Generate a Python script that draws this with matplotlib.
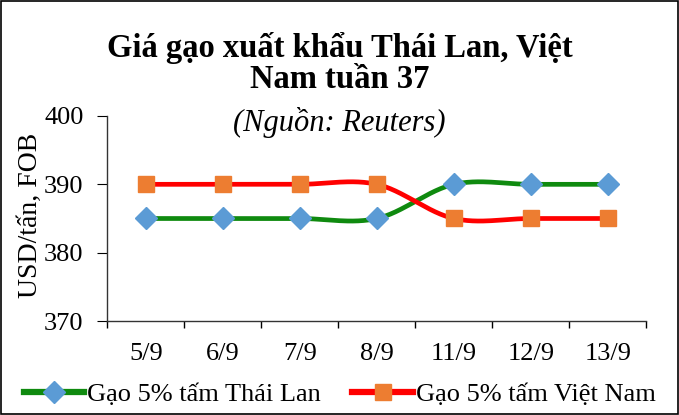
import matplotlib
import numpy as np

matplotlib.use("Agg")
import matplotlib.pyplot as plt
from matplotlib.lines import Line2D
from matplotlib.patches import Rectangle

dates = ["5/9", "6/9", "7/9", "8/9", "11/9", "12/9", "13/9"]
thai = [385, 385, 385, 385, 390, 390, 390]
vietnam = [390, 390, 390, 390, 385, 385, 385]
yticks = [370, 380, 390, 400]

plt.rcParams["font.family"] = ["Liberation Serif", "DejaVu Serif"]


def smooth(x, y, n=30):
    # Catmull-Rom curve through the points, like Excel's smoothed line
    x = np.asarray(x, float)
    y = np.asarray(y, float)
    px = np.concatenate([[2 * x[0] - x[1]], x, [2 * x[-1] - x[-2]]])
    py = np.concatenate([[y[0]], y, [y[-1]]])
    xs, ys = [], []
    t = np.linspace(0, 1, n)
    for i in range(1, len(px) - 2):
        for p, out in ((px, xs), (py, ys)):
            p0, p1, p2, p3 = p[i - 1], p[i], p[i + 1], p[i + 2]
            out.append(
                0.5
                * (
                    2 * p1
                    + (-p0 + p2) * t
                    + (2 * p0 - 5 * p1 + 4 * p2 - p3) * t**2
                    + (-p0 + 3 * p1 - 3 * p2 + p3) * t**3
                )
            )
    return np.concatenate(xs), np.concatenate(ys)


fig = plt.figure(figsize=(6.79, 4.15), dpi=100)
fig.patches.append(
    Rectangle((0.002, 0.003), 0.996, 0.994, transform=fig.transFigure,
              fill=False, edgecolor="black", linewidth=1.2)
)
ax = fig.add_axes([0.158, 0.2265, 0.794, 0.494])

xpos = np.arange(len(dates))
green = "#0f8a0f"
red = "#ff0000"

sx, sy = smooth(xpos, thai)
ax.plot(sx, sy, color=green, linewidth=3.4, solid_capstyle="round", zorder=2)
sx, sy = smooth(xpos, vietnam)
ax.plot(sx, sy, color=red, linewidth=3.4, solid_capstyle="round", zorder=2)
ax.plot(xpos, thai, linestyle="none", marker="D", markersize=11,
        color="#5b9bd5", zorder=3)
ax.plot(xpos, vietnam, linestyle="none", marker="s", markersize=11,
        color="#ed7d31", zorder=3)

ax.set_xlim(-0.5, len(dates) - 0.5)
ax.set_ylim(370, 400)
ax.set_yticks(yticks)
ax.set_xticks(xpos)
ax.set_xticklabels(dates)
ax.set_xticks(np.arange(len(dates) + 1) - 0.5, minor=True)
ax.tick_params(axis="x", which="major", length=0, pad=16, labelsize=19)
ax.tick_params(axis="x", which="minor", length=5, direction="out", width=1)
ax.tick_params(axis="y", length=7, direction="out", labelsize=19, pad=10)
for s in ("top", "right"):
    ax.spines[s].set_visible(False)
ax.spines["left"].set_linewidth(1)
ax.spines["bottom"].set_linewidth(1)
ax.spines["left"].set_color("#333333")
ax.spines["bottom"].set_color("#333333")

ax.set_ylabel("USD/tấn, FOB", fontsize=20)
ax.yaxis.set_label_coords(-0.12, 0.517)

fig.text(0.5, 0.848, "Giá gạo xuất khẩu Thái Lan, Việt\nNam tuần 37",
         ha="center", va="center", fontsize=23.5, fontweight="bold",
         linespacing=1.0)
fig.text(0.5, 0.706, "(Nguồn: Reuters)", ha="center", va="center",
         fontsize=22, style="italic")

handles = [
    Line2D([], [], color=green, linewidth=4.5, marker="D", markersize=11,
           markerfacecolor="#5b9bd5", markeredgecolor="#5b9bd5"),
    Line2D([], [], color=red, linewidth=4.5, marker="s", markersize=11,
           markerfacecolor="#ed7d31", markeredgecolor="#ed7d31"),
]
fig.legend(handles, ["Gạo 5% tấm Thái Lan", "Gạo 5% tấm Việt Nam"],
           loc="center", bbox_to_anchor=(0.5, 0.05), ncol=2, frameon=False,
           fontsize=19, handlelength=2.3, handletextpad=0.1, columnspacing=1.2,
           borderpad=0.0)

fig.savefig("out.png", dpi=100)
